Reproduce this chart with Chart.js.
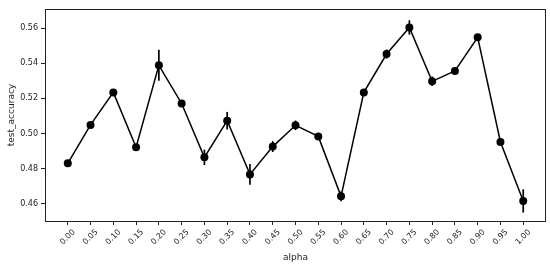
<!DOCTYPE html>
<html>
<head>
<meta charset="utf-8">
<script src="https://cdn.jsdelivr.net/npm/chart.js@4.4.1/dist/chart.umd.min.js"></script>
<style>
  html, body { margin: 0; padding: 0; background: #fff; }
</style>
</head>
<body>
<canvas id="chart" width="550" height="266"></canvas>
<script>
// alpha sweep: mean test accuracy and its error (half length of the bar)
const alphas = [0.00, 0.05, 0.10, 0.15, 0.20, 0.25, 0.30, 0.35, 0.40, 0.45, 0.50,
                0.55, 0.60, 0.65, 0.70, 0.75, 0.80, 0.85, 0.90, 0.95, 1.00];
const accuracy = [0.4831, 0.5049, 0.5234, 0.4922, 0.5388, 0.5171, 0.4865, 0.5073, 0.4768, 0.4926, 0.5047,
                  0.4984, 0.4643, 0.5234, 0.5452, 0.5603, 0.5297, 0.5356, 0.5547, 0.4952, 0.4617];
const accuracyErr = [0.0015, 0.0015, 0.0008, 0.0020, 0.0088, 0.0008, 0.0044, 0.0050, 0.0059, 0.0031, 0.0027,
                     0.0008, 0.0028, 0.0008, 0.0026, 0.0041, 0.0027, 0.0012, 0.0008, 0.0008, 0.0066];
const xTickLabels = ['0.00', '0.05', '0.10', '0.15', '0.20', '0.25', '0.30', '0.35', '0.40', '0.45', '0.50',
                     '0.55', '0.60', '0.65', '0.70', '0.75', '0.80', '0.85', '0.90', '0.95', '1.00'];
const yTicks = [0.46, 0.48, 0.50, 0.52, 0.54, 0.56];

const FONT = "'DejaVu Sans', sans-serif";
const INK = '#222';

// vertical error bars, drawn under the markers
const errorBars = {
    id: 'errorBars',
    beforeDatasetsDraw(chart) {
        const { ctx, scales: { x, y } } = chart;
        ctx.save();
        ctx.strokeStyle = '#000';
        ctx.lineWidth = 1.7;
        alphas.forEach((a, i) => {
            const px = x.getPixelForValue(a);
            ctx.beginPath();
            ctx.moveTo(px, y.getPixelForValue(accuracy[i] - accuracyErr[i]));
            ctx.lineTo(px, y.getPixelForValue(accuracy[i] + accuracyErr[i]));
            ctx.stroke();
        });
        ctx.restore();
    }
};

// box around the plot and 45 degree x labels centred on their ticks
const frameAndLabels = {
    id: 'frameAndLabels',
    afterDraw(chart) {
        const { ctx, chartArea: a, scales: { x } } = chart;
        ctx.save();
        ctx.strokeStyle = INK;
        ctx.lineWidth = 1;
        ctx.strokeRect(Math.round(a.left) + 0.5, Math.round(a.top) + 0.5,
                       Math.round(a.right - a.left) - 1, Math.round(a.bottom - a.top));

        ctx.font = '8px ' + FONT;
        ctx.fillStyle = INK;
        ctx.textAlign = 'center';
        ctx.textBaseline = 'middle';
        alphas.forEach((v, i) => {
            const label = xTickLabels[i];
            const w = ctx.measureText(label).width;
            const cx = x.getPixelForValue(v);
            const cy = a.bottom + 7 + (w + 8) * 0.3536;
            ctx.save();
            ctx.translate(cx, cy);
            ctx.rotate(-Math.PI / 4);
            ctx.fillText(label, 0, 0);
            ctx.restore();
        });
        ctx.restore();
    }
};

new Chart(document.getElementById('chart'), {
    type: 'line',
    data: {
        datasets: [{
            label: 'test_accuracy',
            data: alphas.map((a, i) => ({ x: a, y: accuracy[i] })),
            borderColor: '#000',
            backgroundColor: '#000',
            borderWidth: 1.5,
            pointRadius: 4,
            pointBorderWidth: 0,
            pointBackgroundColor: '#000',
            tension: 0
        }]
    },
    options: {
        responsive: false,
        animation: false,
        devicePixelRatio: 1,
        layout: { padding: { top: 9, right: 4, left: 0, bottom: 0 } },
        plugins: {
            legend: { display: false },
            tooltip: { enabled: false }
        },
        scales: {
            x: {
                type: 'linear',
                min: -0.05,
                max: 1.05,
                afterBuildTicks: (scale) => { scale.ticks = alphas.map(v => ({ value: v })); },
                afterFit: (scale) => { scale.height = 45; },
                grid: { display: true, drawOnChartArea: false, drawTicks: true, tickLength: 4, color: INK },
                border: { display: false },
                ticks: { display: false },
                title: {
                    display: true,
                    text: 'alpha',
                    color: INK,
                    font: { family: FONT, size: 9 },
                    padding: { top: 0, bottom: 3 }
                }
            },
            y: {
                min: 0.4503,
                max: 0.5708,
                afterBuildTicks: (scale) => { scale.ticks = yTicks.map(v => ({ value: v })); },
                afterFit: (scale) => { scale.width = 45; },
                grid: { display: true, drawOnChartArea: false, drawTicks: true, tickLength: 4, color: INK },
                border: { display: false },
                ticks: {
                    color: INK,
                    padding: 3,
                    font: { family: FONT, size: 8 },
                    callback: (v) => v.toFixed(2)
                },
                title: {
                    display: true,
                    text: 'test_accuracy',
                    color: INK,
                    font: { family: FONT, size: 9 },
                    padding: { top: 6, bottom: 0 }
                }
            }
        }
    },
    plugins: [errorBars, frameAndLabels]
});
</script>
</body>
</html>
